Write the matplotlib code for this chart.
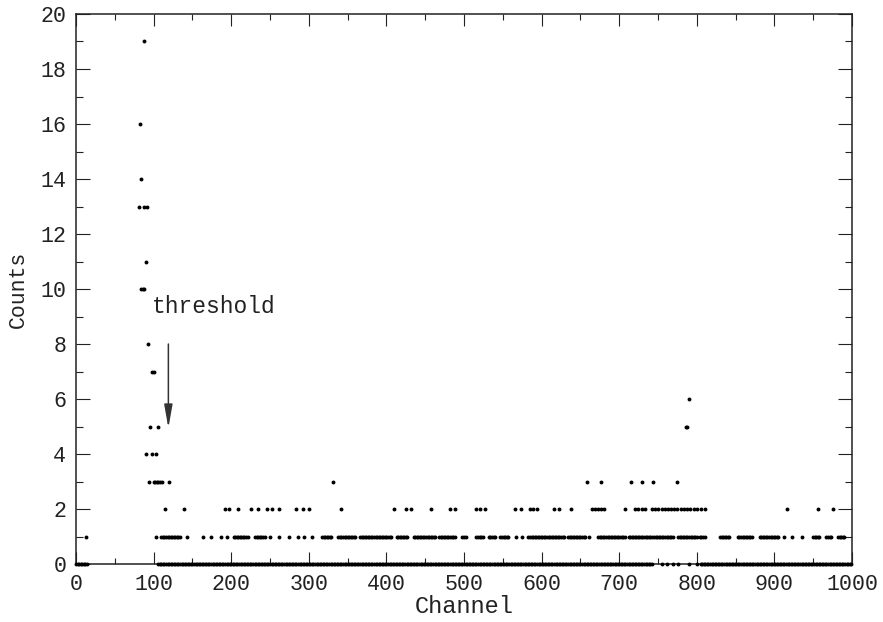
import matplotlib

matplotlib.use("Agg")
import matplotlib.pyplot as plt
import numpy as np
from matplotlib.ticker import MultipleLocator

# peak region and the small bump near channel 790 (counts >= 4)
high_channels = [88, 83, 84, 81, 87, 92, 90, 84, 86, 88, 93, 98, 100, 790,
                 95, 106, 786, 788, 90, 98, 103]
high_counts = [19, 16, 14, 13, 13, 13, 11, 10, 10, 10, 8, 7, 7, 6,
               5, 5, 5, 5, 4, 4, 4]

three_channels = [94, 100, 102, 104, 106, 108, 111, 120, 331, 658, 676,
                  715, 729, 743, 775]

two_channels = [115, 139, 192, 197, 209, 226, 234, 246, 252, 262, 284, 292,
                300, 342, 410, 425, 432, 457, 482, 488, 515, 521, 527, 566,
                574, 585, 589, 594, 616, 622, 638, 665, 669, 673, 677, 680,
                707, 720, 724, 729, 733, 742, 746, 750, 755, 759, 763, 767,
                771, 775, 779, 783, 787, 791, 796, 800, 806, 811, 916, 956,
                975]

# count = 1: isolated channels plus runs of neighbouring channels (start, end)
one_singles = [13, 103, 143, 163, 174, 187, 195, 250, 261, 274, 286, 294,
               304, 567, 575, 661, 912, 923, 935]
one_runs = [(110, 135), (203, 222), (231, 243), (317, 329), (338, 360),
            (366, 407), (413, 428), (435, 463), (468, 488), (498, 503),
            (516, 525), (532, 540), (547, 557), (583, 630), (634, 656),
            (673, 707), (712, 742), (745, 770), (776, 800), (804, 811),
            (830, 843), (853, 872), (881, 906), (950, 958), (967, 974),
            (982, 990)]

# count = 0
zero_singles = [742, 755, 762, 769, 776, 790, 800]
zero_runs = [(0, 15), (106, 740), (805, 1000)]

threshold_channel = 119


def expand(runs):
    return np.concatenate([np.arange(a, b + 1, 2) for a, b in runs])


ones = np.concatenate([one_singles, expand(one_runs)])
zeros = np.concatenate([zero_singles, expand(zero_runs)])

plt.rcParams["font.family"] = "Liberation Mono"
ink = "#222222"

fig = plt.figure(figsize=(8.83, 6.22), dpi=100)
ax = fig.add_axes([0.0861, 0.0932, 0.8788, 0.8843])

dot = dict(linestyle="none", marker="o", markersize=2.8, color="black",
           markeredgewidth=0, clip_on=False, zorder=3)
ax.plot(high_channels, high_counts, **dot)
ax.plot(three_channels, np.full(len(three_channels), 3), **dot)
ax.plot(two_channels, np.full(len(two_channels), 2), **dot)
ax.plot(ones, np.ones(len(ones)), **dot)
ax.plot(zeros, np.zeros(len(zeros)), **dot)

ax.annotate("", xy=(threshold_channel, 4.95), xytext=(threshold_channel, 8.0),
            arrowprops=dict(arrowstyle="-|>,head_length=1.4,head_width=0.25",
                            color="#333333", lw=1.1, shrinkA=0, shrinkB=0))
ax.text(98, 9.35, "threshold", fontsize=16.5, va="center", ha="left", color=ink)

ax.set_xlim(0, 1000)
ax.set_ylim(0, 20)
ax.xaxis.set_major_locator(MultipleLocator(100))
ax.xaxis.set_minor_locator(MultipleLocator(50))
ax.yaxis.set_major_locator(MultipleLocator(2))
ax.yaxis.set_minor_locator(MultipleLocator(1))

ax.tick_params(which="both", direction="in", top=True, right=True,
               width=0.8, labelsize=15.6, colors=ink)
ax.tick_params(axis="x", which="major", length=8.6, pad=7)
ax.tick_params(axis="x", which="minor", length=4.3)
ax.tick_params(axis="y", which="major", length=10, pad=7)
ax.tick_params(axis="y", which="minor", length=5)
for spine in ax.spines.values():
    spine.set_linewidth(1.1)
    spine.set_color(ink)

ax.set_xlabel("Channel", fontsize=17, labelpad=0, color=ink)
ax.set_ylabel("Counts", fontsize=15.5, labelpad=8, color=ink)

fig.savefig("out.png", dpi=100)
